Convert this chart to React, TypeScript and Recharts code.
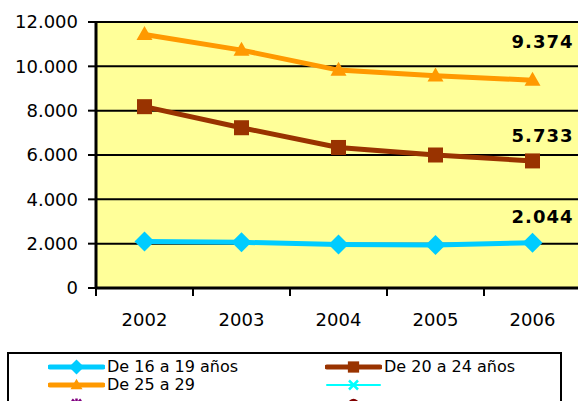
import { CartesianGrid, LabelList, Line, LineChart, XAxis, YAxis } from "recharts";

const years = ["2002", "2003", "2004", "2005", "2006"];
const de16a19 = [2100, 2060, 1960, 1940, 2044];
const de20a24 = [8180, 7230, 6340, 6000, 5733];
const de25a29 = [11440, 10730, 9830, 9570, 9374];
const yTicks = [0, 2000, 4000, 6000, 8000, 10000, 12000];

// series shown in the legend; the last three have no values in the source
const series = [
  { key: "a", name: "De 16 a 19 años", color: "#00CCFF", values: de16a19, marker: "diamond", width: 5, labelDy: -26 },
  { key: "b", name: "De 20 a 24 años", color: "#993300", values: de20a24, marker: "square", width: 5, labelDy: -25 },
  { key: "c", name: "De 25 a 29", color: "#FF9900", values: de25a29, marker: "triangle", width: 5, labelDy: -39 },
  { key: "d", name: "", color: "#00FFFF", values: [] as number[], marker: "x", width: 1.5, labelDy: 0 },
  { key: "e", name: "", color: "#800080", values: [] as number[], marker: "star", width: 1.5, labelDy: 0 },
  { key: "f", name: "", color: "#800000", values: [] as number[], marker: "circle", width: 1.5, labelDy: 0 },
];

const data = years.map((year, i) => {
  const row: Record<string, any> = { year };
  series.forEach((s) => {
    if (s.values[i] !== undefined) row[s.key] = s.values[i];
  });
  return row;
});

const FONT = "'DejaVu Sans', Verdana, sans-serif";
const BAND = 97;
const fmt = (v: number) => v.toLocaleString("de-DE");

function Marker({ type, cx, cy, color, s = 1 }: { type: string; cx: number; cy: number; color: string; s?: number }) {
  if (type === "diamond") {
    const r = 10 * s;
    return <polygon points={`${cx},${cy - r} ${cx + r},${cy} ${cx},${cy + r} ${cx - r},${cy}`} fill={color} />;
  }
  if (type === "square") {
    const r = 7.5 * s;
    return <rect x={cx - r} y={cy - r} width={2 * r} height={2 * r} fill={color} />;
  }
  if (type === "triangle") {
    const w = 8 * s;
    const h = 14 * s;
    return <polygon points={`${cx},${cy - h * 0.6} ${cx + w},${cy + h * 0.4} ${cx - w},${cy + h * 0.4}`} fill={color} />;
  }
  if (type === "x") {
    const r = 6 * s;
    return (
      <g stroke={color} strokeWidth={2.5}>
        <line x1={cx - r} y1={cy - r} x2={cx + r} y2={cy + r} />
        <line x1={cx - r} y1={cy + r} x2={cx + r} y2={cy - r} />
      </g>
    );
  }
  if (type === "star") {
    const r = 6 * s;
    return (
      <g stroke={color} strokeWidth={2.5}>
        <line x1={cx - r} y1={cy - r} x2={cx + r} y2={cy + r} />
        <line x1={cx - r} y1={cy + r} x2={cx + r} y2={cy - r} />
        <line x1={cx} y1={cy - r - 1} x2={cx} y2={cy + r + 1} />
      </g>
    );
  }
  return <circle cx={cx} cy={cy} r={7 * s} fill={color} />;
}

const XTick = (props: any) => {
  const { x, y, payload } = props;
  return (
    <g>
      <line x1={x - BAND / 2} y1={y - 25} x2={x - BAND / 2} y2={y - 17} stroke="#000" strokeWidth={2} />
      <text x={x} y={y} dy="0.71em" textAnchor="middle" fontSize={18} fontFamily={FONT} fill="#000">
        {payload.value}
      </text>
    </g>
  );
};

export default function App() {
  return (
    <div style={{ position: "absolute", left: 0, top: 0, width: 578, height: 401, overflow: "hidden", background: "#fff" }}>
      <LineChart width={600} height={401} data={data} margin={{ top: 22, right: 19, bottom: 83, left: 0 }}>
        <CartesianGrid vertical={false} stroke="#000" strokeWidth={2} fill="#FFFF99" fillOpacity={1} />
        <XAxis
          dataKey="year"
          scale="band"
          height={30}
          tickLine={false}
          tickSize={8}
          tickMargin={17}
          axisLine={{ stroke: "#000", strokeWidth: 3 }}
          tick={<XTick />}
        />
        <YAxis
          width={96}
          domain={[0, 12000]}
          ticks={yTicks}
          interval={0}
          tickFormatter={fmt}
          tickSize={8}
          tickMargin={10}
          axisLine={{ stroke: "#000", strokeWidth: 3 }}
          tickLine={{ stroke: "#000", strokeWidth: 2 }}
          tick={{ fontSize: 18, fontFamily: FONT, fill: "#000" }}
        />
        {series.map((s) => (
          <Line
            key={s.key}
            dataKey={s.key}
            name={s.name}
            stroke={s.color}
            strokeWidth={s.width}
            isAnimationActive={false}
            dot={(p: any) =>
              p.value == null || p.cy == null ? (
                <g key={`${s.key}-${p.index}`} />
              ) : (
                <Marker key={`${s.key}-${p.index}`} type={s.marker} cx={p.cx} cy={p.cy} color={s.color} />
              )
            }
            activeDot={false}
          >
            {s.values.length > 0 && (
              <LabelList
                dataKey={s.key}
                content={(p: any) =>
                  p.index === s.values.length - 1 ? (
                    <text
                      x={p.x + 10}
                      y={p.y + s.labelDy}
                      dy="0.355em"
                      textAnchor="middle"
                      fontSize={18}
                      fontWeight="bold"
                      fontFamily={FONT}
                      fill="#000"
                      letterSpacing={1}
                    >
                      {fmt(p.value)}
                    </text>
                  ) : null
                }
              />
            )}
          </Line>
        ))}
      </LineChart>
      <div
        style={{
          position: "absolute",
          left: 7,
          top: 352,
          width: 551,
          height: 70,
          border: "2px solid #000",
          fontFamily: FONT,
          fontSize: 16,
          color: "#000",
        }}
      >
        {series.map((s, i) => {
          const col = i % 2;
          const row = Math.floor(i / 2);
          const thick = s.width > 2;
          return (
            <div
              key={s.key}
              style={{ position: "absolute", left: col === 0 ? 39 : 316, top: 4 + row * 18.3, height: 18, display: "flex", alignItems: "center", whiteSpace: "nowrap" }}
            >
              <svg width={57} height={18} style={{ display: "block" }}>
                <line x1={2} y1={9} x2={55} y2={9} stroke={s.color} strokeWidth={thick ? 5 : 2} strokeLinecap="round" />
                <Marker type={s.marker} cx={28.5} cy={9} color={s.color} s={0.75} />
              </svg>
              <span style={{ marginLeft: 2, lineHeight: "18px" }}>{s.name}</span>
            </div>
          );
        })}
      </div>
    </div>
  );
}
